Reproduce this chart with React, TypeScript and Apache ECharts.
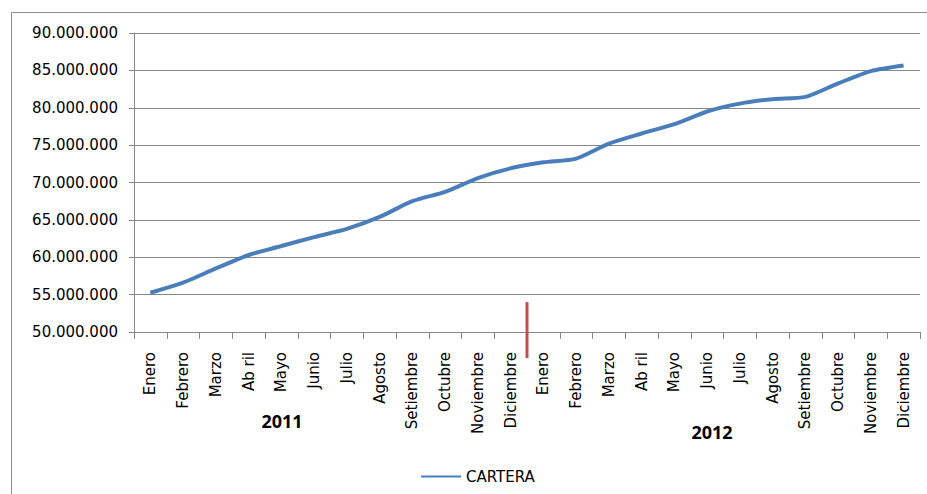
import React, { useEffect, useRef } from "react";
import * as echarts from "echarts";

const months = ["Enero", "Febrero", "Marzo", "Ab ril", "Mayo", "Junio", "Julio", "Agosto", "Setiembre", "Octubre", "Noviembre", "Diciembre"];
const categories = [...months, ...months];
const years = ["2011", "2012"];
const seriesName = "CARTERA";
const cartera = [
  55250000, 56600000, 58500000, 60300000, 61500000, 62700000, 63800000, 65400000, 67500000, 68750000, 70600000, 71900000,
  72700000, 73200000, 75200000, 76550000, 77800000, 79500000, 80550000, 81150000, 81450000, 83250000, 84900000, 85650000,
];
const yMin = 50000000;
const yMax = 90000000;
const yStep = 5000000;

const FONT = "DejaVu Sans";

function fmt(v: number): string {
  return String(Math.round(v)).replace(/\B(?=(\d{3})+(?!\d))/g, ".");
}

export default function App() {
  const ref = useRef<HTMLDivElement>(null);
  useEffect(() => {
    if (!ref.current) return;
    const chart = echarts.init(ref.current, undefined, { renderer: "svg" });
    chart.setOption({
      animation: false,
      backgroundColor: "#ffffff",
      grid: { left: 134, top: 33, right: 7, bottom: 162 },
      xAxis: {
        type: "category",
        data: categories,
        boundaryGap: true,
        axisLine: { lineStyle: { color: "#868686", width: 1 } },
        axisTick: { show: true, length: 7, lineStyle: { color: "#868686" } },
        axisLabel: { rotate: 90, margin: 20, color: "#000", fontFamily: FONT, fontSize: 15, interval: 0 },
        splitLine: { show: false },
      },
      yAxis: {
        type: "value",
        min: yMin,
        max: yMax,
        interval: yStep,
        axisLine: { show: true, lineStyle: { color: "#868686", width: 1 } },
        axisTick: { show: true, length: 5, lineStyle: { color: "#868686" } },
        axisLabel: { margin: 16, color: "#000", fontFamily: FONT, fontSize: 15, formatter: (v: number) => fmt(v) },
        splitLine: { show: true, lineStyle: { color: "#868686", width: 1 } },
      },
      legend: {
        left: 416,
        top: 464,
        itemWidth: 40,
        itemHeight: 14,
        textStyle: { color: "#000", fontFamily: FONT, fontSize: 15 },
        data: [{ name: seriesName, icon: "path://M0,6 L40,6 L40,8 L0,8 Z" }],
      },
      series: [
        {
          name: seriesName,
          type: "line",
          data: cartera,
          symbol: "none",
          smooth: 0.25,
          lineStyle: { color: "#4a7ebb", width: 4 },
          itemStyle: { color: "#4a7ebb" },
        },
      ],
    });

    const x11 = chart.convertToPixel({ xAxisIndex: 0 }, 11) as number;
    const x12 = chart.convertToPixel({ xAxisIndex: 0 }, 12) as number;
    const sepX = (x11 + x12) / 2;
    const sepTop = chart.convertToPixel({ yAxisIndex: 0 }, 54000000) as number;
    const axisY = chart.convertToPixel({ yAxisIndex: 0 }, yMin) as number;

    chart.setOption({
      graphic: [
        {
          type: "rect",
          silent: true,
          shape: { x: 11.5, y: 12.5, width: 940, height: 500 },
          style: { fill: "none", stroke: "#8c8c8c", lineWidth: 1 },
          z: 0,
        },
        {
          type: "line",
          silent: true,
          shape: { x1: sepX, y1: sepTop, x2: sepX, y2: axisY + 26 },
          style: { stroke: "#c0504d", lineWidth: 3 },
          z: 10,
        },
        {
          type: "text",
          silent: true,
          x: 282,
          y: 421,
          style: { text: years[0], font: `bold 18px "Open Sans"`, fill: "#000", align: "center", verticalAlign: "middle" },
        },
        {
          type: "text",
          silent: true,
          x: 712,
          y: 432,
          style: { text: years[1], font: `bold 18px "Open Sans"`, fill: "#000", align: "center", verticalAlign: "middle" },
        },
      ],
    });

    return () => chart.dispose();
  }, []);
  return <div ref={ref} style={{ position: "fixed", left: 0, top: 0, width: 927, height: 494 }} />;
}
